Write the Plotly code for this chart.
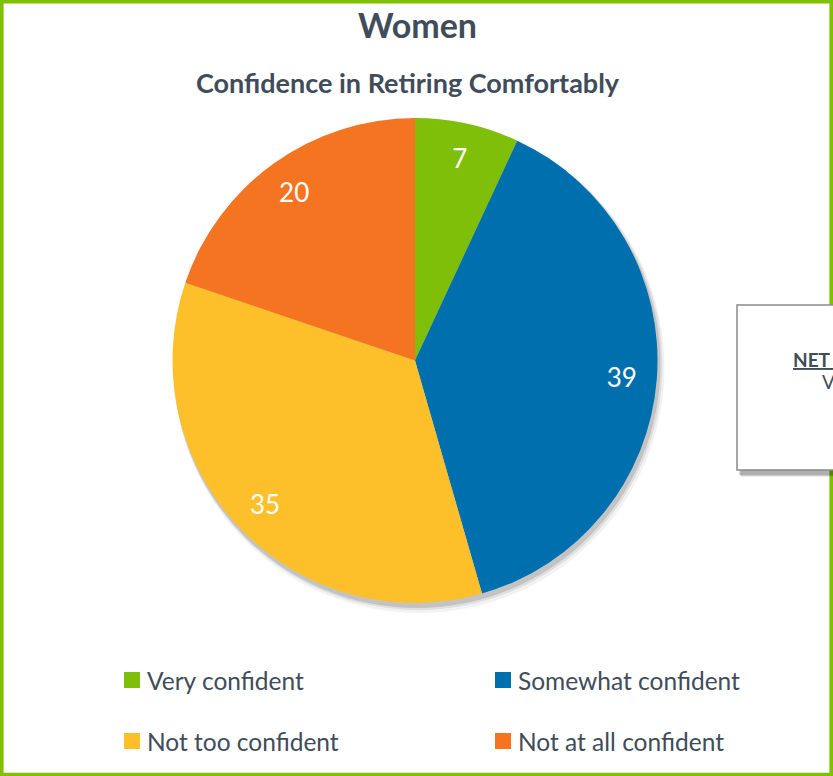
import plotly.graph_objects as go

W, H = 833, 776

categories = ["Very confident", "Somewhat confident", "Not too confident", "Not at all confident"]
values = [7, 39, 35, 20]
colors = ["#7FBF0A", "#006FAD", "#FEC02A", "#F47421"]

title_text = "Women"
subtitle_text = "Confidence in Retiring Comfortably"
net_title = "NET Confident"
net_line = "Very + Somewhat"

TXT = "#404C5A"
FONT = "Lato"

def px(x):
    return x / W

def py(y):
    return 1 - y / H

cx, cy, r = 415, 360.5, 242.5
HOLE = 0.71          # labels sit in the outer ring (~0.85 r), as in the reference
ri = r * (HOLE + 0.012)

fig = go.Figure()
# outer ring carries the value labels
fig.add_trace(go.Pie(
    labels=categories,
    values=values,
    hole=HOLE,
    marker=dict(colors=colors, line=dict(width=0)),
    sort=False,
    direction="clockwise",
    rotation=0,
    textinfo="value",
    textposition="inside",
    insidetextorientation="horizontal",
    textfont=dict(family=FONT, size=26, color="white"),
    showlegend=False,
    domain=dict(x=[px(cx - r), px(cx + r)], y=[py(cy + r), py(cy - r)]),
))
# inner disc fills the centre with the same slices
fig.add_trace(go.Pie(
    labels=categories,
    values=values,
    marker=dict(colors=colors, line=dict(width=0)),
    sort=False,
    direction="clockwise",
    rotation=0,
    textinfo="none",
    hoverinfo="skip",
    showlegend=False,
    domain=dict(x=[px(cx - ri), px(cx + ri)], y=[py(cy + ri), py(cy - ri)]),
))

shapes = []
# pie shadow
for (dx, dy, dr, op) in [(4, 7, 3, 0.05), (3, 5, 2, 0.08), (2, 4, 1, 0.12)]:
    shapes.append(dict(type="circle", xref="paper", yref="paper", layer="below",
                       x0=px(cx - r - dr + dx), x1=px(cx + r + dr + dx),
                       y0=py(cy + r + dr + dy), y1=py(cy - r - dr + dy),
                       fillcolor=f"rgba(0,0,0,{op})", line=dict(width=0)))
# outer green frame
shapes.append(dict(type="rect", xref="paper", yref="paper",
                   x0=px(1.8), x1=px(831.2), y0=py(774.6), y1=py(1.6),
                   line=dict(color="#7FC000", width=3.6), fillcolor="rgba(0,0,0,0)"))
# NET box shadow + box
for (dx, dy, op) in [(5, 6, 0.08), (4, 5, 0.12), (3, 4, 0.15)]:
    shapes.append(dict(type="rect", xref="paper", yref="paper",
                       x0=px(736 + dx), x1=px(1000), y0=py(471 + dy), y1=py(305 + dy),
                       fillcolor=f"rgba(0,0,0,{op})", line=dict(width=0)))
shapes.append(dict(type="rect", xref="paper", yref="paper",
                   x0=px(737), x1=px(1000), y0=py(470), y1=py(305),
                   fillcolor="white", line=dict(color="#8A8A8A", width=1.5)))

annotations = [
    dict(text=f"<b>{title_text}</b>", x=px(417), y=py(25), xref="paper", yref="paper",
         xanchor="center", yanchor="middle", showarrow=False,
         font=dict(family=FONT, size=34, color=TXT)),
    dict(text=f"<b>{subtitle_text}</b>", x=px(408), y=py(83), xref="paper", yref="paper",
         xanchor="center", yanchor="middle", showarrow=False,
         font=dict(family=FONT, size=27, color=TXT)),
    dict(text=f"<b><u>{net_title}</u></b>", x=px(791), y=py(359), xref="paper", yref="paper",
         xanchor="left", yanchor="middle", showarrow=False,
         font=dict(family=FONT, size=19, color=TXT)),
    dict(text=net_line, x=px(820), y=py(381), xref="paper", yref="paper",
         xanchor="left", yanchor="middle", showarrow=False,
         font=dict(family=FONT, size=19, color=TXT)),
]

# legend (2 columns x 2 rows)
leg_sq_x = [124, 495]
leg_row_y = [680, 741]
for i, (cat, col) in enumerate(zip(categories, colors)):
    c = i % 2
    rr = i // 2
    x0 = leg_sq_x[c]
    yc = leg_row_y[rr]
    shapes.append(dict(type="rect", xref="paper", yref="paper",
                       x0=px(x0), x1=px(x0 + 16), y0=py(yc + 8), y1=py(yc - 8),
                       fillcolor=col, line=dict(width=0)))
    annotations.append(dict(text=cat, x=px(x0 + 21), y=py(yc), xref="paper", yref="paper",
                            xanchor="left", yanchor="middle", showarrow=False,
                            font=dict(family=FONT, size=24.5, color=TXT)))

fig.update_layout(
    width=W, height=H, autosize=False,
    margin=dict(l=0, r=0, t=0, b=0),
    paper_bgcolor="white", plot_bgcolor="white",
    shapes=shapes, annotations=annotations,
    font=dict(family=FONT),
)

fig.write_html("out.html",
               config={"displayModeBar": False},
               post_script="document.body.style.margin='0';document.body.style.overflow='hidden';")
